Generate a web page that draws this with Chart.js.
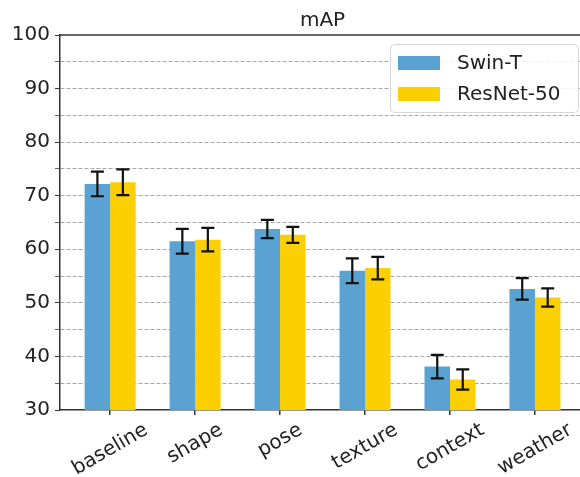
<!DOCTYPE html>
<html>
<head>
<meta charset="utf-8">
<script src="https://cdn.jsdelivr.net/npm/chart.js@4.4.1/dist/chart.umd.min.js"></script>
<style>
  html, body { margin: 0; padding: 0; background: #fff; }
  #wrap { width: 580px; height: 477px; }
</style>
</head>
<body>
<div id="wrap"><canvas id="mapChart" width="580" height="477"></canvas></div>
<script>
// Data
const categories = ['baseline', 'shape', 'pose', 'texture', 'context', 'weather'];
const swinValues = [72.2, 61.5, 63.8, 56.0, 38.1, 52.6];
const swinErr = [2.3, 2.3, 1.7, 2.3, 2.2, 2.0];
const resnetValues = [72.5, 61.8, 62.7, 56.5, 35.7, 51.0];
const resnetErr = [2.4, 2.2, 1.5, 2.1, 1.9, 1.7];
const yTicks = [30, 40, 50, 60, 70, 80, 90, 100];

const FONT = 'DejaVu Sans';
const TEXT = '#222';
const SWIN_COLOR = '#59a2d1';
const RESNET_COLOR = '#fccf00';

// error bars, title, top spine, legend and rotated category labels
const extrasPlugin = {
  id: 'extras',
  afterDatasetsDraw(chart) {
    const ctx = chart.ctx;
    const y = chart.scales.y;
    const errs = [swinErr, resnetErr];
    ctx.save();
    ctx.strokeStyle = '#111';
    ctx.lineWidth = 2.2;
    chart.data.datasets.forEach((ds, di) => {
      const meta = chart.getDatasetMeta(di);
      meta.data.forEach((bar, i) => {
        const v = ds.data[i].y;
        const top = y.getPixelForValue(v + errs[di][i]);
        const bot = y.getPixelForValue(v - errs[di][i]);
        ctx.beginPath();
        ctx.moveTo(bar.x, top); ctx.lineTo(bar.x, bot);
        ctx.moveTo(bar.x - 6.5, top); ctx.lineTo(bar.x + 6.5, top);
        ctx.moveTo(bar.x - 6.5, bot); ctx.lineTo(bar.x + 6.5, bot);
        ctx.stroke();
      });
    });
    ctx.restore();
  },
  afterDraw(chart) {
    const ctx = chart.ctx;
    const area = chart.chartArea;
    const x = chart.scales.x;
    ctx.save();

    // top spine
    ctx.strokeStyle = '#333';
    ctx.lineWidth = 1.5;
    ctx.beginPath();
    ctx.moveTo(area.left, area.top);
    ctx.lineTo(area.right, area.top);
    ctx.stroke();

    // title, centred on the full axes width
    ctx.fillStyle = TEXT;
    ctx.font = '20px "' + FONT + '"';
    ctx.textAlign = 'center';
    ctx.textBaseline = 'alphabetic';
    ctx.fillText('mAP', x.getPixelForValue(2.5), 26);

    // rotated category labels, centred under each tick
    const ang = 30 * Math.PI / 180;
    categories.forEach((name, i) => {
      const w = ctx.measureText(name).width;
      const h = w * Math.sin(ang) + 20 * Math.cos(ang);
      const cx = x.getPixelForValue(i);
      const cy = area.bottom + 10 + h / 2;
      ctx.save();
      ctx.translate(cx, cy);
      ctx.rotate(-ang);
      ctx.textAlign = 'center';
      ctx.textBaseline = 'middle';
      ctx.fillText(name, 0, 0);
      ctx.restore();
    });

    // legend
    const lx = 390, ly = 44, lw = 188, lh = 68;
    ctx.fillStyle = 'rgba(255,255,255,0.85)';
    ctx.strokeStyle = '#d6d6d6';
    ctx.lineWidth = 1;
    ctx.beginPath();
    ctx.roundRect(lx + 0.5, ly + 0.5, lw, lh, 4);
    ctx.fill();
    ctx.stroke();
    const items = [['Swin-T', SWIN_COLOR], ['ResNet-50', RESNET_COLOR]];
    items.forEach((it, k) => {
      const rowY = ly + 19 + k * 31;
      ctx.fillStyle = it[1];
      ctx.fillRect(398, rowY - 7, 42, 14);
      ctx.fillStyle = TEXT;
      ctx.textAlign = 'left';
      ctx.textBaseline = 'middle';
      ctx.fillText(it[0], 457, rowY + 1);
    });
    ctx.restore();
  }
};

const ctx = document.getElementById('mapChart').getContext('2d');
const mapChart = new Chart(ctx, {
  type: 'bar',
  data: {
    datasets: [{
      label: 'Swin-T',
      data: swinValues.map((v, i) => ({ x: i, y: v })),
      backgroundColor: SWIN_COLOR,
      categoryPercentage: 0.6,
      barPercentage: 1.0
    }, {
      label: 'ResNet-50',
      data: resnetValues.map((v, i) => ({ x: i, y: v })),
      backgroundColor: RESNET_COLOR,
      categoryPercentage: 0.6,
      barPercentage: 1.0
    }]
  },
  options: {
    responsive: false,
    animation: false,
    layout: { padding: { top: 35, right: 0, bottom: 0, left: 0 } },
    plugins: {
      legend: { display: false },
      title: { display: false },
      tooltip: { enabled: false }
    },
    scales: {
      x: {
        type: 'linear',
        offset: false,
        min: -0.59,
        max: 5.53,
        afterBuildTicks(scale) {
          scale.ticks = categories.map((c, i) => ({ value: i }));
        },
        afterFit(scale) { scale.height = 67; },
        ticks: { display: false },
        grid: {
          offset: false,
          drawOnChartArea: false,
          drawTicks: true,
          tickLength: 5,
          tickColor: '#333',
          lineWidth: 1.5
        },
        border: { display: true, color: '#333', width: 1.5 }
      },
      y: {
        min: 30,
        max: 100,
        afterBuildTicks(scale) {
          const t = [];
          for (let v = 30; v <= 100; v += 5) t.push({ value: v });
          scale.ticks = t;
        },
        afterFit(scale) { scale.width = 60; },
        ticks: {
          autoSkip: false,
          padding: 5,
          color: TEXT,
          font: { family: FONT, size: 20 },
          callback: (v) => yTicks.includes(v) ? String(v) : ''
        },
        grid: {
          color: (c) => (c.tick && (c.tick.value === 30 || c.tick.value === 100)) ? 'rgba(0,0,0,0)' : '#a8a8a8',
          tickColor: (c) => yTicks.includes(c.tick.value) ? '#333' : '#666',
          tickLength: 5,
          lineWidth: 1
        },
        border: { display: true, color: '#333', width: 1.5, dash: [4, 2] }
      }
    }
  },
  plugins: [extrasPlugin]
});
</script>
</body>
</html>
